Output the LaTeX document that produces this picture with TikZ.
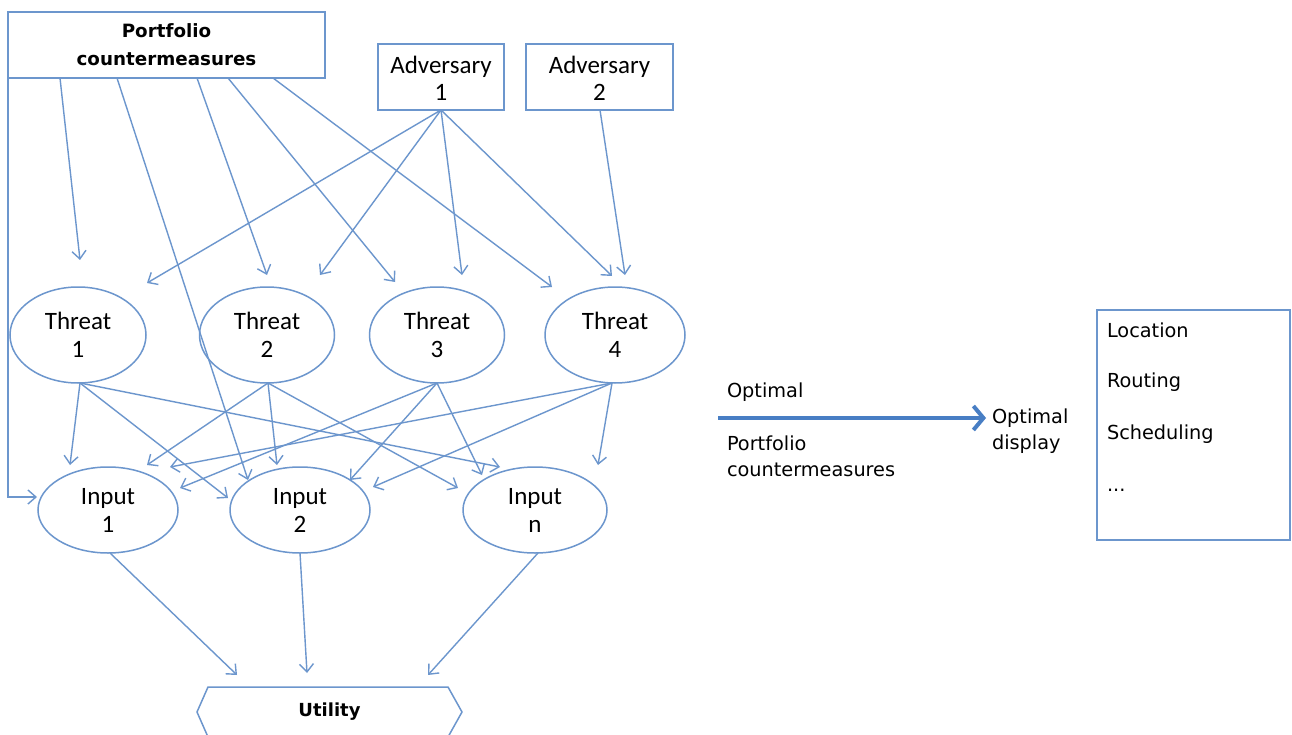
\documentclass[tikz,border=0pt]{standalone}
\usepackage{fontspec}
\setmainfont{DejaVu Sans}
\newfontfamily\labfont{Carlito}
\usetikzlibrary{arrows.meta,shapes.geometric,calc}
\definecolor{lineblue}{RGB}{108,150,205}
\definecolor{bigblue}{RGB}{72,126,196}
\begin{document}
\begin{tikzpicture}[x=1pt,y=-1pt,
  every node/.style={inner sep=0pt, outer sep=0pt},
  rbox/.style={draw=lineblue, line width=1.5pt, rectangle},
  ell/.style={draw=lineblue, line width=1.5pt, ellipse, align=center,
    font=\labfont\fontsize{25}{28}\selectfont},
  advlab/.style={align=center, font=\labfont\fontsize{25}{27}\selectfont},
  arr/.style={draw=lineblue, line width=1.4pt, -{Straight Barb[length=8pt,width=14pt]}},
  bigarr/.style={draw=bigblue, line width=4pt, -{Straight Barb[length=10pt,width=24pt]}},
  rtxt/.style={anchor=west, font=\fontsize{19.3}{26}\selectfont, align=left},
]
\useasboundingbox (0,0) rectangle (1292,735);
\fill[white] (0,0) rectangle (1292,735);

% top boxes
\node[rbox, minimum width=317pt, minimum height=66pt, align=center,
  font=\bfseries\fontsize{18.3}{28}\selectfont] (pc) at (166.5,45) {Portfolio\\countermeasures};
\node[rbox, minimum width=126pt, minimum height=66pt] (a1) at (441,77) {};
\node[advlab] (a1t) at (441,78) {Adversary\\1};
\node[rbox, minimum width=147pt, minimum height=66pt] (a2) at (599.5,77) {};
\node[advlab] (a2t) at (599.5,78) {Adversary\\2};

% threats
\node[ell, minimum width=136pt, minimum height=96pt] (t1) at (78,335) {Threat\\1};
\node[ell, minimum width=135pt, minimum height=96pt] (t2) at (267,335) {Threat\\2};
\node[ell, minimum width=135pt, minimum height=96pt] (t3) at (437,335) {Threat\\3};
\node[ell, minimum width=140pt, minimum height=96pt] (t4) at (615,335) {Threat\\4};

% inputs
\node[ell, minimum width=140pt, minimum height=86pt] (i1) at (108,510) {Input\\1};
\node[ell, minimum width=140pt, minimum height=86pt] (i2) at (300,510) {Input\\2};
\node[ell, minimum width=144pt, minimum height=86pt] (in) at (535,510) {Input\\n};

% utility
\draw[draw=lineblue, line width=1.5pt] (197,712) -- (208,687) -- (448,687) -- (462,712) -- (448,737) -- (208,737) -- cycle;
\node[font=\bfseries\fontsize{18}{20}\selectfont] (u) at (329.5,712) {Utility};

% portfolio edges
\draw[arr] ($(pc)+(-106.5,33)$) -- ($(t1)+(2,-75)$);
\draw[arr] ($(pc)+(-49.5,33)$) -- ($(i2)+(-52,-30)$);
\draw[arr] ($(pc)+(30.5,33)$) -- ($(t2)+(0,-60)$);
\draw[arr] ($(pc)+(61.5,33)$) -- ($(t3)+(-42,-53)$);
\draw[arr] ($(pc)+(106.5,33)$) -- ($(t4)+(-63,-48)$);
\draw[arr] (pc.south west) |- ($(i1)+(-71,-13)$);

% adversary edges
\draw[arr] ($(a1)+(0,33)$) -- ($(t1)+(69,-52)$);
\draw[arr] ($(a1)+(0,33)$) -- ($(t2)+(53,-60)$);
\draw[arr] ($(a1)+(0,33)$) -- ($(t3)+(25,-60)$);
\draw[arr] ($(a1)+(0,33)$) -- ($(t4)+(-3,-59)$);
\draw[arr] ($(a2)+(0.5,33)$) -- ($(t4)+(10,-60)$);

% threat -> input edges
\draw[arr] ($(t1)+(2,48)$) -- ($(i1)+(-38,-45)$);
\draw[arr] ($(t1)+(2,48)$) -- ($(i2)+(-72,-12)$);
\draw[arr] ($(t1)+(2,48)$) -- ($(in)+(-35,-43)$);
\draw[arr] ($(t2)+(1,48)$) -- ($(i1)+(39,-45)$);
\draw[arr] ($(t2)+(1,48)$) -- ($(i2)+(-23,-45)$);
\draw[arr] ($(t2)+(1,48)$) -- ($(in)+(-77,-22)$);
\draw[arr] ($(t3)+(0,48)$) -- ($(i1)+(72,-22)$);
\draw[arr] ($(t3)+(0,48)$) -- ($(i2)+(50,-30)$);
\draw[arr] ($(t3)+(0,48)$) -- ($(in)+(-53,-35)$);
\draw[arr] ($(t4)+(-3,48)$) -- ($(i1)+(62,-43)$);
\draw[arr] ($(t4)+(-3,48)$) -- ($(i2)+(73,-23)$);
\draw[arr] ($(t4)+(-3,48)$) -- ($(in)+(63,-45)$);

% input -> utility
\draw[arr] ($(i1)+(2,43)$) -- ($(u)+(-92.5,-37)$);
\draw[arr] ($(i2)+(0,43)$) -- ($(u)+(-22.5,-39)$);
\draw[arr] ($(in)+(3,43)$) -- ($(u)+(98.5,-37)$);

% right part
\node[rtxt] (opt) at (727,392) {Optimal};
\node[rtxt] (ppc) at (727,456) {Portfolio\\countermeasures};
\node[rtxt] (od) at (992,431) {Optimal\\display};
\coordinate (arrs) at (718,418);
\draw[bigarr] (arrs) -- ($(arrs -| od.west)+(-6,0)$);

\node[rbox, minimum width=193pt, minimum height=230pt] (rb) at (1193.5,425) {};
\node[rtxt] (loc) at ($(rb.north west)+(10,20)$) {Location};
\node[rtxt] (rout) at ($(rb.north west)+(10,72)$) {Routing};
\node[rtxt] (sch) at ($(rb.north west)+(10,124)$) {Scheduling};
\node[rtxt] (dots) at ($(rb.north west)+(10,180)$) {...};
\end{tikzpicture}
\end{document}
